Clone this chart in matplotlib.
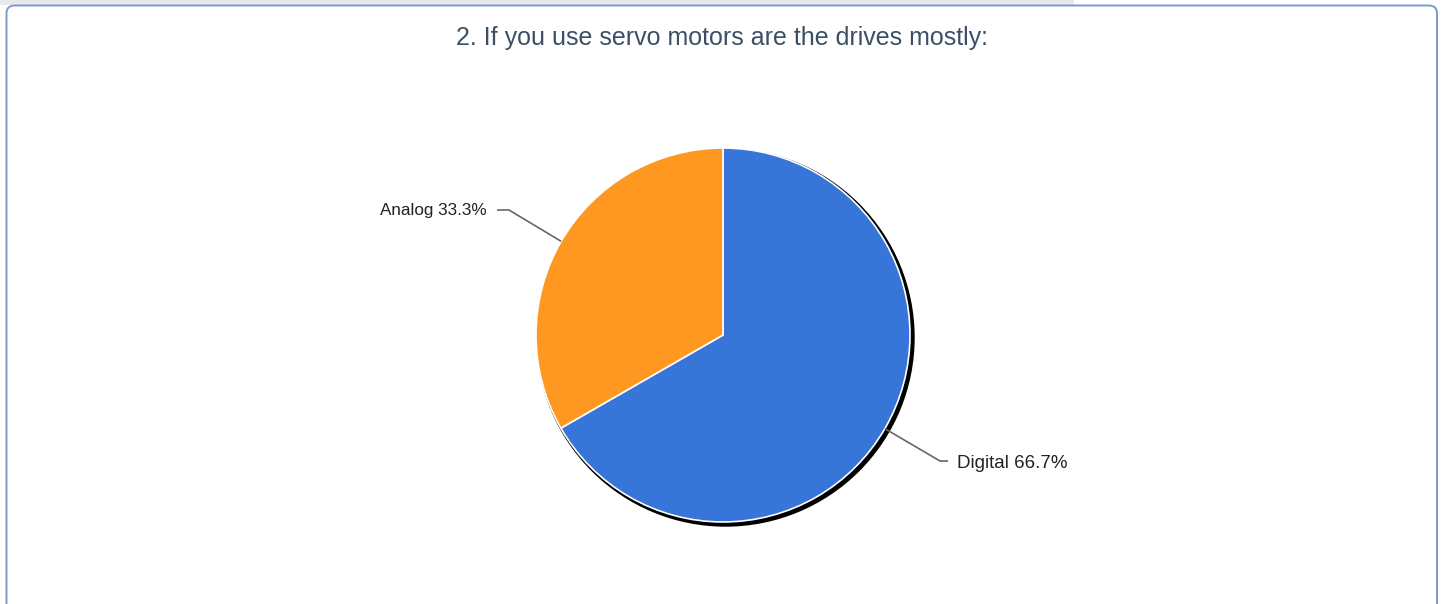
import numpy as np
import matplotlib
matplotlib.use("Agg")
import matplotlib.pyplot as plt
from matplotlib.patches import FancyBboxPatch, Circle, Rectangle

title = "2. If you use servo motors are the drives mostly:"
categories = ["Digital", "Analog"]
values = [66.7, 33.3]
colors = ["#3875d9", "#fe9820"]

W, H = 1443, 604
fig = plt.figure(figsize=(W / 100, H / 100), dpi=100)
ax = fig.add_axes([0, 0, 1, 1])

# top gray strip and panel frame
ax.add_patch(Rectangle((0, H - 5), 1074, 5, facecolor="#e8e8e8", edgecolor="none", zorder=0))
ax.add_patch(FancyBboxPatch((6.5, -20), 1430.5, H - 5.5 + 20,
                            boxstyle="round,pad=0,rounding_size=8",
                            facecolor="white", edgecolor="#7d9bc9", linewidth=1.4, zorder=1))

ax.text(722, H - 38, title, ha="center", va="center", fontsize=18,
        color="#3d4f66", family="Liberation Sans", zorder=5)

cx, cy, r = 723, H - 335, 187
# shadow
ax.add_patch(Circle((cx + 2.5, cy - 2.5), r + 2.2, facecolor="black", edgecolor="none", zorder=2))
wedges, _ = ax.pie(values, colors=colors, startangle=90, counterclock=False,
                   center=(cx, cy), radius=r, frame=True,
                   wedgeprops=dict(edgecolor="white", linewidth=1.2, zorder=3))
ax.set_xlim(0, W)
ax.set_ylim(0, H)
ax.set_aspect("auto")
ax.axis("off")

label_cfg = {
    "Digital": dict(elbow=(940, H - 461), end=(948, H - 461), text=(957, H - 463), ha="left", fs=13.5),
    "Analog": dict(elbow=(509, H - 210), end=(497, H - 210), text=(487, H - 210), ha="right", fs=12.3),
}
for w, cat, v in zip(wedges, categories, values):
    mid = np.deg2rad((w.theta1 + w.theta2) / 2)
    px, py = cx + r * np.cos(mid), cy + r * np.sin(mid)
    c = label_cfg[cat]
    ax.plot([px, c["elbow"][0], c["end"][0]], [py, c["elbow"][1], c["end"][1]],
            color="#666666", linewidth=1.2, zorder=4, solid_capstyle="butt")
    ax.text(c["text"][0], c["text"][1], f"{cat} {v:.1f}%", ha=c["ha"], va="center",
            fontsize=c["fs"], color="#222222", family="Liberation Sans", zorder=5)

fig.savefig("out.png", dpi=100)
